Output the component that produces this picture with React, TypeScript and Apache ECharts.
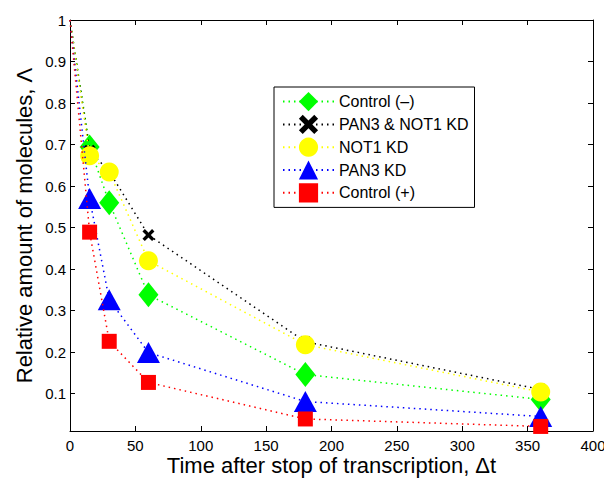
import React, { useEffect, useRef } from "react";
import * as echarts from "echarts";

const times = [0, 15, 30, 60, 180, 360];
const controlMinus = [1, 0.694, 0.56, 0.338, 0.146, 0.086];
const pan3Not1 = [1, 0.685, 0.635, 0.482, 0.225, 0.11];
const not1 = [1, 0.673, 0.634, 0.42, 0.218, 0.104];
const pan3 = [1, 0.57, 0.326, 0.199, 0.081, 0.045];
const controlPlus = [1, 0.489, 0.226, 0.127, 0.039, 0.021];

const seriesNames = ["Control (\u2013)", "PAN3 & NOT1 KD", "NOT1 KD", "PAN3 KD", "Control (+)"];
const yTicks = [0.1, 0.2, 0.3, 0.4, 0.5, 0.6, 0.7, 0.8, 0.9, 1];

const FONT = "'Liberation Sans', Arial, Helvetica, sans-serif";
const X_SYMBOL = "path://M0,2 L2,0 L5,3 L8,0 L10,2 L7,5 L10,8 L8,10 L5,7 L2,10 L0,8 L3,5 Z";

function buildData(vals: number[]) {
  return vals.map((v, i) =>
    i === 0 ? { value: [times[i], v], symbol: "none" } : { value: [times[i], v] }
  );
}

export default function App() {
  const ref = useRef<HTMLDivElement>(null);
  useEffect(() => {
    if (!ref.current) return;
    document.body.style.margin = "0";
    document.body.style.overflow = "hidden";
    const chart = echarts.init(ref.current, null, { renderer: "svg" });
    const styles = [
      { vals: controlMinus, color: "#00ff00", symbol: "diamond", size: [20, 25] },
      { vals: pan3Not1, color: "#000000", symbol: X_SYMBOL, size: 12 },
      { vals: not1, color: "#ffff00", symbol: "circle", size: 19 },
      { vals: pan3, color: "#0000ff", symbol: "triangle", size: [23, 21] },
      { vals: controlPlus, color: "#ff0000", symbol: "rect", size: 15 },
    ];
    const axisCommon = {
      axisLine: { show: true, onZero: false, lineStyle: { color: "#000", width: 1 } },
      splitLine: { show: false },
    };
    chart.setOption({
      animation: false,
      backgroundColor: "#fff",
      grid: { left: 70, right: 11, top: 20, bottom: 47, containLabel: false, outerBoundsMode: "none" },
      legend: {
        left: 274,
        top: 87,
        orient: "vertical",
        backgroundColor: "#fff",
        borderColor: "#000",
        borderWidth: 1,
        borderRadius: 0,
        padding: [5, 6, 5, 8],
        itemWidth: 51,
        itemHeight: 24,
        itemGap: 3.6,
        textStyle: { fontFamily: FONT, fontSize: 16, color: "#000" },
        data: seriesNames,
      },
      xAxis: [
        {
          type: "value",
          min: 0,
          max: 400,
          interval: 50,
          name: "Time after stop of transcription, \u0394t",
          nameLocation: "middle",
          nameGap: 23,
          nameMoveOverlap: false,
          nameTextStyle: { fontFamily: FONT, fontSize: 22, lineHeight: 22, color: "#000" },
          axisTick: { show: true, inside: true, length: 5, lineStyle: { color: "#000" } },
          axisLabel: { fontFamily: FONT, fontSize: 15, color: "#000", margin: 7 },
          ...axisCommon,
        },
        {
          type: "value",
          position: "top",
          min: 0,
          max: 400,
          interval: 50,
          axisTick: { show: true, inside: true, length: 5, lineStyle: { color: "#000" } },
          axisLabel: { show: false },
          ...axisCommon,
        },
      ],
      yAxis: [
        {
          type: "value",
          min: 0.01,
          max: 1,
          name: "Relative amount of molecules, \u039b",
          nameLocation: "middle",
          nameGap: 35,
          nameMoveOverlap: false,
          nameTextStyle: { fontFamily: FONT, fontSize: 22, lineHeight: 22, color: "#000" },
          axisTick: {
            show: true,
            inside: true,
            length: 5,
            customValues: yTicks,
            lineStyle: { color: "#000" },
          },
          axisLabel: {
            fontFamily: FONT,
            fontSize: 15,
            color: "#000",
            margin: 4,
            customValues: yTicks,
            formatter: (v: number) => String(Math.round(v * 10) / 10),
          },
          ...axisCommon,
        },
        {
          type: "value",
          position: "right",
          min: 0.01,
          max: 1,
          axisTick: {
            show: true,
            inside: true,
            length: 5,
            customValues: yTicks,
            lineStyle: { color: "#000" },
          },
          axisLabel: { show: false },
          ...axisCommon,
        },
      ],
      series: styles.map((s, i) => ({
        name: seriesNames[i],
        type: "line",
        xAxisIndex: 0,
        yAxisIndex: 0,
        data: buildData(s.vals),
        symbol: s.symbol,
        symbolSize: s.size,
        showAllSymbol: true,
        color: s.color,
        itemStyle: { color: s.color, opacity: 1 },
        lineStyle: { color: s.color, width: 1.5, type: [1.5, 4] },
        emphasis: { disabled: true },
        clip: false,
        z: 2 + i,
      })),
    });
    return () => chart.dispose();
  }, []);
  return (
    <div
      ref={ref}
      style={{ position: "fixed", left: 0, top: 0, width: 604, height: 478 }}
    />
  );
}
